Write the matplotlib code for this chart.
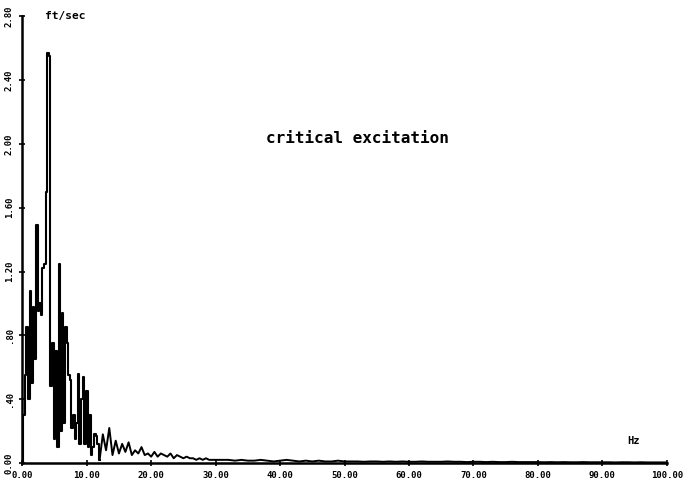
import numpy as np
import matplotlib
matplotlib.use("Agg")
import matplotlib.pyplot as plt

# spectrum bins (Hz): fine below 12 Hz, coarser above
freq_low = np.arange(0, 12.01, 0.25)
freq_mid = np.arange(12.5, 30.01, 0.5)
freq_high = np.arange(31, 100.01, 1.0)

# amplitude (ft/sec)
amp_low = [0.00, 0.30, 0.55, 0.85, 0.40, 1.08, 0.50, 0.98, 0.65, 1.49,
           0.95, 1.00, 0.93, 1.22, 1.25, 1.70, 2.57, 2.55, 0.48, 0.75,
           0.15, 0.70, 0.10, 1.25, 0.20, 0.94, 0.25, 0.85, 0.75, 0.55,
           0.52, 0.22, 0.30, 0.15, 0.25, 0.56, 0.12, 0.40, 0.54, 0.12,
           0.45, 0.10, 0.30, 0.05, 0.10, 0.18, 0.17, 0.12, 0.02]
amp_mid = [0.18, 0.08, 0.22, 0.05, 0.14, 0.06, 0.12, 0.07, 0.13, 0.05,
           0.08, 0.06, 0.10, 0.05, 0.06, 0.04, 0.07, 0.04, 0.06, 0.05,
           0.04, 0.06, 0.03, 0.05, 0.04, 0.03, 0.04, 0.03, 0.03, 0.02,
           0.03, 0.02, 0.03, 0.02, 0.02, 0.02]
amp_high = [0.02, 0.02, 0.015, 0.02, 0.015, 0.015, 0.02, 0.015, 0.01, 0.015,
            0.02, 0.015, 0.01, 0.015, 0.01, 0.015, 0.01, 0.01, 0.015, 0.01,
            0.01, 0.01, 0.008, 0.01, 0.01, 0.008, 0.01, 0.008, 0.01, 0.008,
            0.008, 0.01, 0.008, 0.008, 0.008, 0.01, 0.008, 0.008, 0.006, 0.008,
            0.008, 0.006, 0.008, 0.006, 0.006, 0.008, 0.006, 0.006, 0.006, 0.006,
            0.005, 0.006, 0.005, 0.006, 0.005, 0.005, 0.006, 0.005, 0.005, 0.005,
            0.005, 0.004, 0.005, 0.005, 0.004, 0.005, 0.004, 0.004, 0.004, 0.004]

xticks = [0, 10, 20, 30, 40, 50, 60, 70, 80, 90, 100]
xlabels = ["0.00", "10.00", "20.00", "30.00", "40.00", "50.00",
           "60.00", "70.00", "80.00", "90.00", "100.00"]
yticks = [0, 0.4, 0.8, 1.2, 1.6, 2.0, 2.4, 2.8]
ylabels = ["0.00", ".40", ".80", "1.20", "1.60", "2.00", "2.40", "2.80"]

freq_tail = np.concatenate([freq_low[-1:], freq_mid, freq_high])
amp_tail = np.array(amp_low[-1:] + amp_mid + amp_high)

fig = plt.figure(figsize=(6.96, 4.9), dpi=100)
ax = fig.add_axes([0.032, 0.055, 0.926, 0.912])

# low band drawn as vertical steps, the tail as a plain trace
ax.plot(freq_low, amp_low, color="black", lw=1.5, drawstyle="steps-mid")
ax.plot(freq_tail, amp_tail, color="black", lw=1.4)

ax.set_xlim(0, 100)
ax.set_ylim(0, 2.8)
for s in ["top", "right"]:
    ax.spines[s].set_visible(False)
for s in ["left", "bottom"]:
    ax.spines[s].set_linewidth(1.8)

mono = "DejaVu Sans Mono"
ax.set_xticks(xticks)
ax.set_xticklabels(xlabels, fontfamily=mono, fontweight="bold", fontsize=6.5)
ax.set_yticks(yticks)
ax.set_yticklabels(ylabels, fontfamily=mono, fontweight="bold", fontsize=6.5,
                   rotation=90, va="center")
ax.tick_params(axis="both", direction="inout", length=4, width=1.2, pad=4)

ax.text(0.036, 1.0, "ft/sec", transform=ax.transAxes, fontfamily=mono,
        fontweight="bold", fontsize=8, va="center", ha="left")
ax.text(0.938, 0.05, "Hz", transform=ax.transAxes, fontfamily=mono,
        fontweight="bold", fontsize=7.5, va="center", ha="left")
ax.text(0.52, 0.727, "critical excitation", transform=ax.transAxes,
        fontfamily=mono, fontweight="bold", fontsize=11.5, va="center",
        ha="center")

fig.savefig("out.png", dpi=100, facecolor="white")
